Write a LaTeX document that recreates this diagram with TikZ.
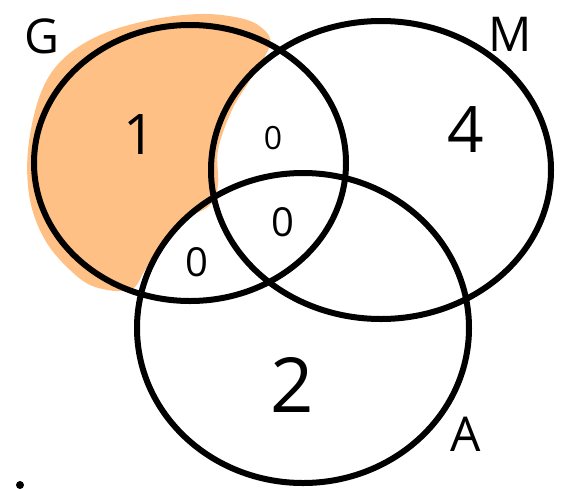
\documentclass[tikz,border=0pt]{standalone}
\usepackage{fontspec}
\setmainfont{Open Sans}
\usetikzlibrary{shapes.geometric}
\definecolor{peach}{RGB}{254,192,132}

\begin{document}
\begin{tikzpicture}[x=0.5pt,y=-0.5pt,
                    set/.style={ellipse, draw, line width=3pt, inner sep=0pt},
                    lbl/.style={font=\fontsize{24}{24}\selectfont},
                    num/.style={font=\fontsize{#1}{#1}\selectfont}]
\useasboundingbox (0,0) rectangle (562,488);
% shaded part: G only
\fill[peach] plot[smooth cycle, tension=0.6] coordinates {
  (270,45) (262,28) (240,18) (200,14) (150,20) (100,35) (62,60) (40,95)
  (28,150) (30,200) (45,240) (70,270) (95,287) (130,290) (145,270)
  (160,245) (185,220) (210,205) (218,185) (218,150) (232,110) (250,80)};
% the three sets
\node[set, minimum width=156pt, minimum height=138pt] (G) at (190,163) {};
\node[set, minimum width=170pt, minimum height=149pt] (M) at (381,170) {};
\node[set, minimum width=166pt, minimum height=155pt] (A) at (303,328) {};
% set names
\node[lbl] (Gname) at (42,36)  {G};
\node[lbl] (Mname) at (510,34) {M};
\node[lbl] (Aname) at (466,434) {A};
% counts
\node[num=28] (nG)   at (140,135) {1};
\node[num=16] (nGM)  at (273,138) {0};
\node[num=20] (nGMA) at (283,222) {0};
\node[num=20] (nGA)  at (197,262) {0};
\node[num=32] (nM)   at (466,130) {4};
\node[num=38] (nA)   at (292,385) {2};
% stray mark
\fill (20,485) circle (4);
\end{tikzpicture}
\end{document}
